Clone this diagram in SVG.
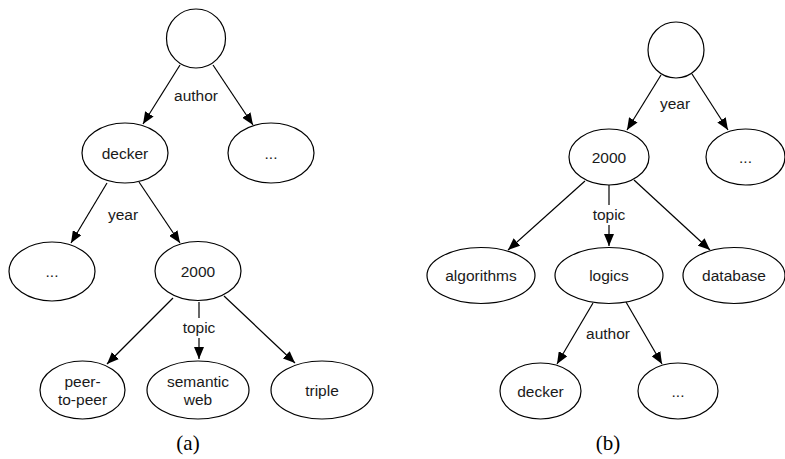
<svg xmlns="http://www.w3.org/2000/svg" width="785" height="459" viewBox="0 0 785 459">
<style>
.n{fill:#fff;stroke:#000;stroke-width:1.2}
.t{font-family:"Liberation Sans",Arial,sans-serif;font-size:15.5px;fill:#1a1a1a;text-anchor:middle}
.c{stroke:#000;stroke-width:1.2;fill:none;marker-end:url(#ah)}
.cap{font-family:"Liberation Serif","Times New Roman",serif;font-size:21px;fill:#000;text-anchor:middle}
</style>
<defs>
<marker id="ah" markerUnits="userSpaceOnUse" markerWidth="12" markerHeight="10" viewBox="0 0 12 10" refX="12" refY="5" orient="auto">
<path d="M0,0 L12,5 L0,10 Z" fill="#000"/>
</marker>
</defs>
<rect width="785" height="459" fill="#fff"/>
<g id="connectors">
<line class="c" x1="180" y1="65" x2="143" y2="124"/>
<line class="c" x1="213" y1="65" x2="253" y2="125"/>
<line class="c" x1="107" y1="183" x2="71" y2="243"/>
<line class="c" x1="139" y1="182" x2="180" y2="243"/>
<line class="c" x1="173" y1="298" x2="107" y2="364"/>
<line class="c" x1="199" y1="302" x2="199" y2="359"/>
<line class="c" x1="224" y1="296" x2="295" y2="363"/>
<line class="c" x1="661" y1="75" x2="627" y2="130"/>
<line class="c" x1="692" y1="74" x2="728" y2="130"/>
<line class="c" x1="585" y1="181" x2="508" y2="250"/>
<line class="c" x1="609" y1="185" x2="609" y2="246"/>
<line class="c" x1="634" y1="180" x2="710" y2="250"/>
<line class="c" x1="593" y1="303" x2="557" y2="364"/>
<line class="c" x1="626" y1="302" x2="662" y2="364"/>
<rect x="182" y="318" width="34" height="20" fill="#fff"/>
<rect x="592" y="205" width="34" height="20" fill="#fff"/>
<text class="t" x="196" y="101">author</text>
<text class="t" x="123" y="220">year</text>
<text class="t" x="199" y="333">topic</text>
<text class="t" x="675" y="109">year</text>
<text class="t" x="609" y="220">topic</text>
<text class="t" x="608" y="339">author</text>
</g>
<g id="a-root"><circle class="n" cx="196" cy="38.5" r="29.5"/></g>
<g id="a-decker"><ellipse class="n" cx="125" cy="153" rx="43" ry="30"/><text class="t" x="125" y="159">decker</text></g>
<g id="a-dots1"><ellipse class="n" cx="271" cy="153" rx="43" ry="30"/><text class="t" x="271" y="159">...</text></g>
<g id="a-dots2"><ellipse class="n" cx="52" cy="271.5" rx="43" ry="29.5"/><text class="t" x="52" y="277">...</text></g>
<g id="a-2000"><ellipse class="n" cx="198" cy="271" rx="43" ry="29.5"/><text class="t" x="198" y="277">2000</text></g>
<g id="a-peer"><ellipse class="n" cx="82.5" cy="390" rx="42.5" ry="29"/><text class="t" x="82.5" y="386.5">peer-</text><text class="t" x="82.5" y="405">to-peer</text></g>
<g id="a-semantic"><ellipse class="n" cx="198" cy="390" rx="51" ry="29"/><text class="t" x="198" y="386.5">semantic</text><text class="t" x="198" y="405">web</text></g>
<g id="a-triple"><ellipse class="n" cx="322" cy="390" rx="51" ry="29"/><text class="t" x="322" y="396">triple</text></g>
<g id="b-root"><circle class="n" cx="676" cy="50" r="28"/></g>
<g id="b-2000"><ellipse class="n" cx="609" cy="157" rx="40" ry="28"/><text class="t" x="609" y="163">2000</text></g>
<g id="b-dots1"><ellipse class="n" cx="745.5" cy="157" rx="39.5" ry="28"/><text class="t" x="745.5" y="163">...</text></g>
<g id="b-algorithms"><ellipse class="n" cx="481" cy="275.5" rx="54" ry="28"/><text class="t" x="481" y="281">algorithms</text></g>
<g id="b-logics"><ellipse class="n" cx="609" cy="275.5" rx="54" ry="28"/><text class="t" x="609" y="281">logics</text></g>
<g id="b-database"><ellipse class="n" cx="734" cy="275.5" rx="51" ry="28"/><text class="t" x="734" y="281">database</text></g>
<g id="b-decker"><ellipse class="n" cx="540.5" cy="391" rx="40.5" ry="28"/><text class="t" x="540.5" y="397">decker</text></g>
<g id="b-dots2"><ellipse class="n" cx="678" cy="391" rx="40" ry="28"/><text class="t" x="678" y="397">...</text></g>
<text class="cap" x="188" y="450">(a)</text>
<text class="cap" x="608" y="450">(b)</text>
</svg>
